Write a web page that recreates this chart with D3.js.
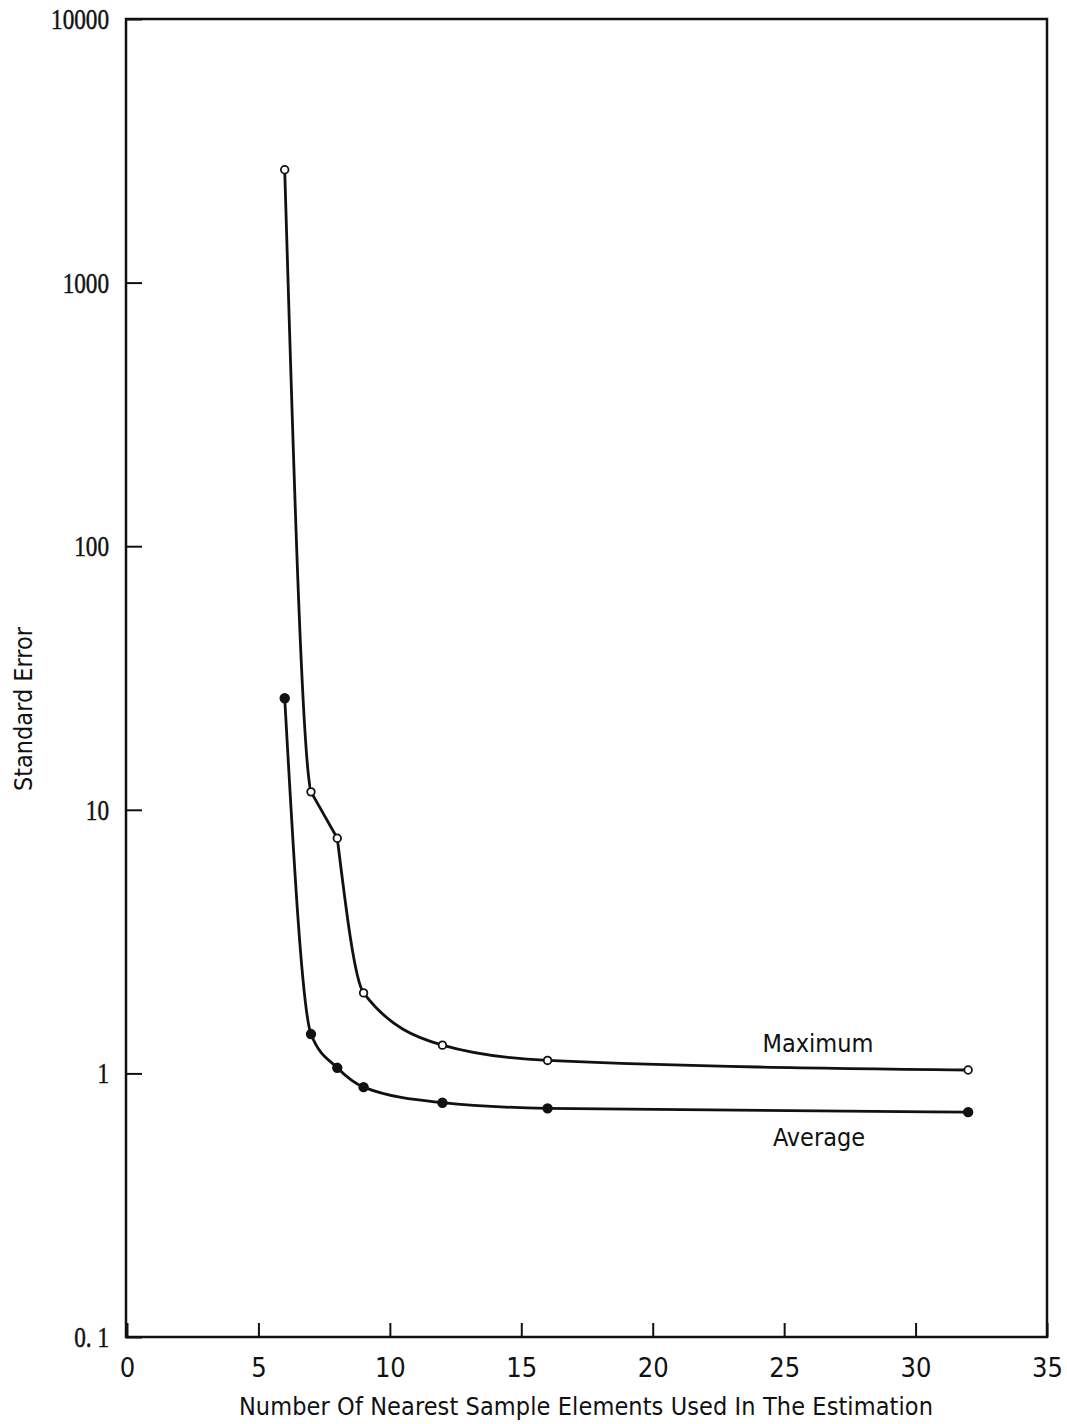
<!DOCTYPE html>
<html>
<head>
<meta charset="utf-8">
<script src="https://cdn.jsdelivr.net/npm/d3@7"></script>
<style>
  body { margin: 0; background: #fff; }
  .sans { font-family: "Liberation Sans Narrow", "DejaVu Sans Condensed", sans-serif; font-stretch: condensed; }
  .serif { font-family: "Liberation Serif", "DejaVu Serif", serif; }
</style>
</head>
<body>
<div id="chart"></div>
<script>
// data
const neighbours = [6, 7, 8, 9, 12, 16, 32]
const maxError = [2680, 11.7, 7.8, 2.02, 1.28, 1.12, 1.03]
const avgError = [26.5, 1.41, 1.05, 0.887, 0.774, 0.737, 0.713]
const xTicks = [0, 5, 10, 15, 20, 25, 30, 35]
const yTicks = [0.1, 1, 10, 100, 1000, 10000]

let width = 1067, height = 1424
let frameLeft = 126, frameRight = 1047, frameTop = 19, frameBottom = 1337

let svg = d3.select("#chart").append("svg")
  .attr("width", width)
  .attr("height", height)

const x = d3.scaleLinear([0, 35], [127, 1047])
const y = d3.scaleLog([0.1, 10000], [frameBottom, frameTop])

// frame
svg.append("rect")
  .attr("x", frameLeft).attr("y", frameTop)
  .attr("width", frameRight - frameLeft).attr("height", frameBottom - frameTop)
  .attr("fill", "none")
  .attr("stroke", "#111")
  .attr("stroke-width", 2.5)

// condensed serif look for the y labels
const squeeze = 0.8

const yAxis = svg.append("g")
  .attr("transform", `translate(${frameLeft},0)`)
  .call(d3.axisLeft(y)
    .tickValues(yTicks)
    .tickSizeInner(-16)
    .tickSizeOuter(0)
    .tickPadding(17)
    .tickFormat(d => d < 1 ? "0. 1" : d3.format("d")(d)))
yAxis.select(".domain").remove()
yAxis.selectAll("line").attr("stroke", "#111").attr("stroke-width", 2)
yAxis.selectAll("text")
  .attr("class", "serif")
  .style("font-size", "29px")
  .attr("fill", "#111")
  .attr("stroke", "#111")
  .attr("stroke-width", 0.5)
  .attr("x", -17 / squeeze)
  .attr("dy", "0.33em")
  .attr("transform", `scale(${squeeze},1)`)

const xAxis = svg.append("g")
  .attr("transform", `translate(0,${frameBottom})`)
  .call(d3.axisBottom(x)
    .tickValues(xTicks)
    .tickSizeInner(-14)
    .tickSizeOuter(0)
    .tickPadding(21)
    .tickFormat(d3.format("d")))
xAxis.select(".domain").remove()
xAxis.selectAll("line").attr("stroke", "#111").attr("stroke-width", 2)
xAxis.selectAll("text")
  .attr("class", "sans")
  .style("font-size", "27px")
  .attr("fill", "#111")

// axis titles
svg.append("text")
  .attr("class", "sans")
  .attr("x", 586)
  .attr("y", 1415)
  .attr("text-anchor", "middle")
  .style("font-size", "25px")
  .attr("letter-spacing", "0.1")
  .attr("fill", "#111")
  .text("Number Of Nearest Sample Elements Used In The Estimation")

svg.append("text")
  .attr("class", "sans")
  .attr("transform", "translate(32,709) rotate(-90)")
  .attr("text-anchor", "middle")
  .style("font-size", "25px")
  .attr("fill", "#111")
  .text("Standard Error")

// curves
const line = d3.line()
  .x(d => x(d[0]))
  .y(d => y(d[1]))
  .curve(d3.curveMonotoneX)

const maxPts = d3.zip(neighbours, maxError)
const avgPts = d3.zip(neighbours, avgError)

// the hand-drawn maximum curve has corners at x = 7 and x = 8:
// the drop 6..7 is cut from a smooth 6-7-8 curve, 7..8 is a straight piece
svg.append("clipPath")
  .attr("id", "upto7")
  .append("rect")
  .attr("x", 0).attr("y", 0)
  .attr("width", x(neighbours[1])).attr("height", height)

const series = [
  { name: "Maximum", values: maxPts, fill: "#fff", r: 3.8,
    pieces: [[maxPts.slice(0, 3), "url(#upto7)"], [maxPts.slice(1, 3), null], [maxPts.slice(2), null]] },
  { name: "Average", values: avgPts, fill: "#111", r: 4.3,
    pieces: [[avgPts, null]] }
]

series.forEach(s => {
  s.pieces.forEach(([p, clip]) => {
    svg.append("path")
      .attr("d", line(p))
      .attr("clip-path", clip)
      .attr("fill", "none")
      .attr("stroke", "#111")
      .attr("stroke-width", 2.8)
      .attr("stroke-linejoin", "round")
  })

  svg.append("g").selectAll("circle")
    .data(s.values)
    .join("circle")
    .attr("cx", d => x(d[0]))
    .attr("cy", d => y(d[1]))
    .attr("r", s.r)
    .attr("fill", s.fill)
    .attr("stroke", "#111")
    .attr("stroke-width", 1.8)
})

// labels
svg.append("text")
  .attr("class", "sans")
  .attr("x", 818).attr("y", 1052)
  .attr("text-anchor", "middle")
  .style("font-size", "25px")
  .attr("fill", "#111")
  .text("Maximum")

svg.append("text")
  .attr("class", "sans")
  .attr("x", 819).attr("y", 1146)
  .attr("text-anchor", "middle")
  .style("font-size", "25px")
  .attr("fill", "#111")
  .text("Average")
</script>
</body>
</html>
